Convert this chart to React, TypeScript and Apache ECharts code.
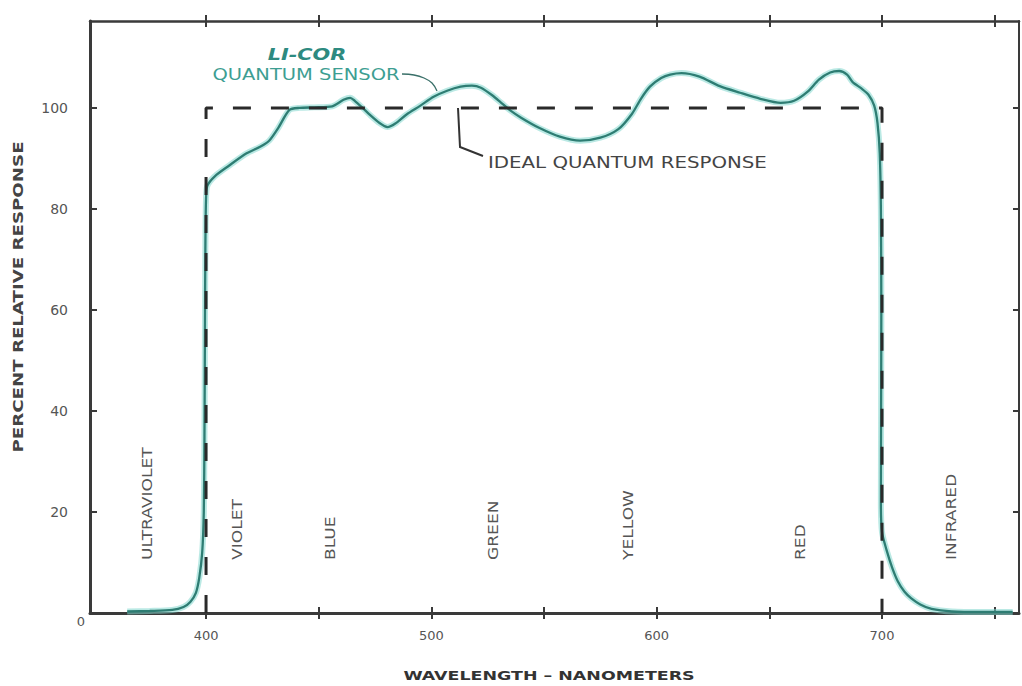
import { useEffect, useRef } from 'react';
import * as echarts from 'echarts';

// LI-COR quantum sensor relative response (percent) by wavelength (nm)
const wavelengthNm = [
  365, 375, 385, 390, 393, 395.5, 397, 398.3, 399, 399.3, 399.5, 399.7, 400,
  400.6, 404, 410, 418, 424, 428, 432, 437, 441.5, 448, 456, 461, 464, 466,
  469, 473, 477, 480.5, 484, 489, 495, 501, 507, 513, 518, 522, 527, 531, 535,
  540, 548, 557, 566, 575, 583, 589, 593, 597, 602, 606, 611, 619, 628, 637,
  646, 655, 661, 667, 672, 677, 681, 684.5, 687, 691, 694, 696.5, 698, 699,
  699.5, 699.7, 699.6, 699.5, 700, 702, 704.5, 707, 710, 713, 717, 722, 731,
  745, 758,
];
const sensorResponse = [
  0.3, 0.4, 0.6, 1.2, 2.2, 4, 7, 12, 20, 35, 55, 72, 82,
  84.6, 86.5, 88.5, 91, 92.3, 93.5, 96, 99.6, 100, 100.1, 100.3, 101.6, 102, 101.4,
  100.2, 98.5, 97, 96.2, 96.9, 98.7, 100.4, 102.2, 103.4, 104.2, 104.4, 104, 102.5, 101, 99.5,
  98, 96, 94.3, 93.5, 94.1, 95.8, 98.8, 101.8, 104.2, 105.9, 106.6, 106.9, 106.2, 104.3, 103,
  101.8, 101, 101.4, 103.2, 105.6, 107, 107.3, 106.6, 105.1, 103.8, 102.6, 100.5, 97, 91,
  80, 60, 40, 22, 16, 12.5, 9, 6.3, 4.2, 2.9, 1.7, 0.8, 0.3,
  0.2, 0.2,
];

// Ideal quantum response (step function)
const idealWavelength = [400, 400, 700, 700];
const idealResponse = [0, 100, 100, 0];

// Axis ticks / labels
const xTickValues = [400, 450, 500, 550, 600, 650, 700, 750];
const xLabelValues = [400, 500, 600, 700];
const yTickValues = [20, 40, 60, 80, 100];

// Spectral band names and their centre wavelengths (nm)
const bandNames = ['ULTRAVIOLET', 'VIOLET', 'BLUE', 'GREEN', 'YELLOW', 'RED', 'INFRARED'];
const bandCentersNm = [374, 414, 455.3, 527.5, 587.5, 664, 730.7];

const X_MIN = 348.5;
const X_MAX = 760.8;
const Y_MAX = 117.2;

export default function App() {
  const ref = useRef<HTMLDivElement>(null);

  useEffect(() => {
    const chart = echarts.init(ref.current!, null, { renderer: 'svg' });
    const font = 'DejaVu Sans';
    const axisColor = '#3a3a3a';
    const tickStyle = { color: axisColor, width: 2 };

    const xBase = {
      type: 'value' as const,
      min: X_MIN,
      max: X_MAX,
      splitLine: { show: false },
    };
    const yBase = {
      type: 'value' as const,
      min: 0,
      max: Y_MAX,
      splitLine: { show: false },
    };

    const curve = wavelengthNm.map((w, i) => [w, sensorResponse[i]]);
    const ideal = idealWavelength.map((w, i) => [w, idealResponse[i]]);

    chart.setOption({
      animation: false,
      backgroundColor: '#ffffff',
      grid: { left: 90, right: 3, top: 21, bottom: 73, containLabel: false },
      xAxis: [
        {
          ...xBase,
          position: 'bottom',
          axisLine: { show: true, lineStyle: { color: axisColor, width: 3 } },
          axisTick: { show: true, inside: false, length: 6, lineStyle: tickStyle, customValues: xTickValues },
          axisLabel: {
            show: true,
            customValues: xLabelValues,
            margin: 16,
            color: '#555',
            fontFamily: font,
            fontSize: 13,
          },
        },
        {
          ...xBase,
          position: 'bottom',
          axisLine: { show: false },
          axisTick: { show: true, inside: true, length: 6, lineStyle: tickStyle, customValues: xTickValues },
          axisLabel: { show: false },
        },
        {
          ...xBase,
          position: 'top',
          axisLine: { show: true, lineStyle: { color: axisColor, width: 2.5 } },
          axisTick: { show: true, inside: false, length: 6, lineStyle: tickStyle, customValues: xTickValues },
          axisLabel: { show: false },
        },
        {
          ...xBase,
          position: 'top',
          axisLine: { show: false },
          axisTick: { show: true, inside: true, length: 6, lineStyle: tickStyle, customValues: xTickValues },
          axisLabel: { show: false },
        },
      ],
      yAxis: [
        {
          ...yBase,
          position: 'left',
          axisLine: { show: true, lineStyle: { color: axisColor, width: 3 } },
          axisTick: { show: true, inside: true, length: 7, lineStyle: tickStyle, customValues: yTickValues },
          axisLabel: {
            show: true,
            customValues: yTickValues,
            margin: 22,
            color: '#555',
            fontFamily: font,
            fontSize: 14,
          },
        },
        {
          ...yBase,
          position: 'right',
          axisLine: { show: true, lineStyle: { color: axisColor, width: 2 } },
          axisTick: { show: true, inside: true, length: 6, lineStyle: tickStyle, customValues: yTickValues },
          axisLabel: { show: false },
        },
      ],
      series: [
        {
          name: 'Quantum sensor halo',
          type: 'line',
          data: curve,
          xAxisIndex: 0,
          yAxisIndex: 0,
          showSymbol: false,
          smooth: 0.25,
          lineStyle: { color: 'rgba(130,215,205,0.55)', width: 6 },
          z: 2,
          silent: true,
        },
        {
          name: 'LI-COR Quantum Sensor',
          type: 'line',
          data: curve,
          xAxisIndex: 0,
          yAxisIndex: 0,
          showSymbol: false,
          smooth: 0.25,
          lineStyle: { color: '#2e7d73', width: 2.3 },
          z: 3,
        },
        {
          name: 'Ideal Quantum Response',
          type: 'line',
          data: ideal,
          xAxisIndex: 0,
          yAxisIndex: 0,
          showSymbol: false,
          lineStyle: { color: '#2a2a2a', width: 3, type: [18, 20] },
          z: 4,
        },
      ],
    });

    const bandTexts = bandNames.map((name, i) => {
      const px = chart.convertToPixel({ xAxisIndex: 0 }, bandCentersNm[i]) as number;
      return {
        type: 'text',
        x: px,
        y: 560,
        rotation: Math.PI / 2,
        scaleX: 1.22,
        style: {
          text: name,
          fill: '#555',
          fontFamily: font,
          fontSize: 14,
          align: 'left',
          verticalAlign: 'middle',
        },
        z: 10,
      };
    });

    chart.setOption({
      graphic: [
        ...bandTexts,
        {
          type: 'text',
          x: 307,
          y: 54,
          scaleX: 1.3,
          style: {
            text: 'LI-COR',
            fill: '#2d8a80',
            fontFamily: font,
            fontSize: 16,
            fontWeight: 'bold',
            fontStyle: 'italic',
            align: 'center',
            verticalAlign: 'middle',
          },
          z: 10,
        },
        {
          type: 'text',
          x: 306,
          y: 75,
          scaleX: 1.3,
          style: {
            text: 'QUANTUM SENSOR',
            fill: '#3d9e92',
            fontFamily: font,
            fontSize: 15,
            align: 'center',
            verticalAlign: 'middle',
          },
          z: 10,
        },
        {
          type: 'polyline',
          shape: { points: [[402, 74], [414, 75], [424, 78], [432, 83], [437, 91]], smooth: 0.4 },
          style: { stroke: '#3a7069', lineWidth: 1.3, fill: 'none' },
          z: 10,
        },
        {
          type: 'text',
          x: 488,
          y: 163,
          scaleX: 1.32,
          style: {
            text: 'IDEAL QUANTUM RESPONSE',
            fill: '#444',
            fontFamily: font,
            fontSize: 15,
            align: 'left',
            verticalAlign: 'middle',
          },
          z: 10,
        },
        {
          type: 'polyline',
          shape: { points: [[458, 108], [460, 147], [483, 156]] },
          style: { stroke: '#333', lineWidth: 2, fill: 'none' },
          z: 10,
        },
        {
          type: 'text',
          x: 81,
          y: 621,
          style: {
            text: '0',
            fill: '#555',
            fontFamily: font,
            fontSize: 13,
            align: 'center',
            verticalAlign: 'middle',
          },
          z: 10,
        },
        {
          type: 'text',
          x: 549,
          y: 676,
          scaleX: 1.34,
          style: {
            text: 'WAVELENGTH – NANOMETERS',
            fill: '#333',
            fontFamily: font,
            fontSize: 13,
            fontWeight: 'bold',
            align: 'center',
            verticalAlign: 'middle',
          },
          z: 10,
        },
        {
          type: 'text',
          x: 18,
          y: 297,
          rotation: Math.PI / 2,
          scaleX: 1.3,
          style: {
            text: 'PERCENT RELATIVE RESPONSE',
            fill: '#444',
            fontFamily: font,
            fontSize: 14,
            fontWeight: 'bold',
            align: 'center',
            verticalAlign: 'middle',
          },
          z: 10,
        },
      ],
    });

    return () => chart.dispose();
  }, []);

  return (
    <div
      ref={ref}
      style={{ position: 'fixed', left: 0, top: 0, width: 1022, height: 686, background: '#fff' }}
    />
  );
}
